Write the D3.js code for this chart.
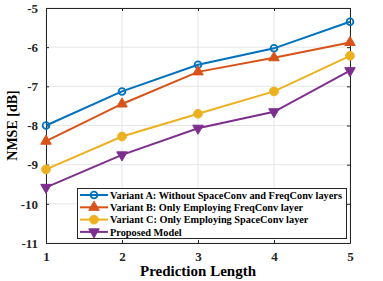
<!DOCTYPE html>
<html>
  <head>
    <style>
      body { margin: 0; padding: 0; background: #fff; overflow: hidden; }
      svg { display: block; }
      text { font-family: "Liberation Serif", "Times New Roman", serif; font-weight: bold; }
    </style>
    <script src="https://d3js.org/d3.v7.min.js"></script>
  </head>
  <body>
    <svg width="383" height="281"></svg>
    <script>
      // Data
      const lengths = [1, 2, 3, 4, 5];
      const variantA = [-8.0, -7.13, -6.45, -6.03, -5.35];
      const variantB = [-8.4, -7.45, -6.63, -6.27, -5.88];
      const variantC = [-9.12, -8.28, -7.7, -7.13, -6.22];
      const proposed = [-9.58, -8.75, -8.07, -7.65, -6.6];
      const yTicks = [-11, -10, -9, -8, -7, -6, -5];
      const seriesNames = [
        'Variant A: Without SpaceConv and FreqConv layers',
        'Variant B: Only Employing FreqConv layer',
        'Variant C: Only Employing SpaceConv layer',
        'Proposed Model'
      ];

      const series = [
        { name: seriesNames[0], values: variantA, color: '#0072BD', marker: 'ring' },
        { name: seriesNames[1], values: variantB, color: '#D95319', marker: 'up' },
        { name: seriesNames[2], values: variantC, color: '#EDB120', marker: 'dot' },
        { name: seriesNames[3], values: proposed, color: '#7E2F8E', marker: 'down' }
      ];

      const svg = d3.select('svg');
      const plotL = 46, plotR = 350, plotT = 8, plotB = 243;

      const x = d3.scaleLinear().domain([1, 5]).range([plotL, plotR]);
      const y = d3.scaleLinear().domain([-11, -5]).range([plotB, plotT]);

      // grid
      const grid = svg.append('g').attr('stroke', '#e6e6e6').attr('stroke-width', 1);
      lengths.forEach(v => {
        grid.append('line').attr('x1', x(v)).attr('x2', x(v)).attr('y1', plotT).attr('y2', plotB);
      });
      yTicks.forEach(v => {
        grid.append('line').attr('x1', plotL).attr('x2', plotR).attr('y1', y(v)).attr('y2', y(v));
      });

      // axes
      svg.append('g')
        .attr('transform', `translate(0,${plotB})`)
        .call(d3.axisBottom(x).tickValues(lengths).tickSizeInner(-3).tickSizeOuter(0).tickPadding(9).tickFormat(d3.format('d')));
      svg.append('g')
        .attr('transform', `translate(${plotL},0)`)
        .call(d3.axisLeft(y).tickValues(yTicks).tickSizeInner(-3).tickSizeOuter(0).tickPadding(8).tickFormat(d => d));
      svg.append('g')
        .attr('transform', `translate(0,${plotT})`)
        .call(d3.axisTop(x).tickValues(lengths).tickSizeInner(-3).tickSizeOuter(0).tickFormat(''));
      svg.append('g')
        .attr('transform', `translate(${plotR},0)`)
        .call(d3.axisRight(y).tickValues(yTicks).tickSizeInner(-3).tickSizeOuter(0).tickFormat(''));
      svg.selectAll('.domain, .tick line').attr('stroke', '#262626');
      svg.selectAll('.tick text').attr('fill', '#262626')
        .style('font-family', '"Liberation Serif", serif').style('font-weight', 'bold').style('font-size', '13px');

      // lines
      const line = d3.line().x((d, i) => x(lengths[i])).y(d => y(d));
      const sym = {
        up: d3.symbol().type(d3.symbolTriangle).size(48),
        down: d3.symbol().type(d3.symbolTriangle).size(48),
        dot: d3.symbol().type(d3.symbolCircle).size(60),
        ring: d3.symbol().type(d3.symbolCircle).size(36)
      };
      function drawMarker(g, s, cx, cy) {
        const p = g.append('path').attr('d', sym[s.marker]());
        const rot = s.marker === 'down' ? ' rotate(180)' : '';
        p.attr('transform', `translate(${cx},${cy})${rot}`);
        if (s.marker === 'ring') {
          p.attr('fill', 'none').attr('stroke', s.color).attr('stroke-width', 1.8);
        } else {
          p.attr('fill', s.color).attr('stroke', s.color).attr('stroke-width', 1);
        }
      }

      series.forEach(s => {
        svg.append('path').datum(s.values)
          .attr('d', line).attr('fill', 'none')
          .attr('stroke', s.color).attr('stroke-width', 2);
        const g = svg.append('g');
        s.values.forEach((v, i) => drawMarker(g, s, x(lengths[i]), y(v)));
      });

      // legend
      const lg = svg.append('g');
      lg.append('rect').attr('x', 77.5).attr('y', 188.5).attr('width', 269).attr('height', 50)
        .attr('fill', '#fff').attr('stroke', '#262626').attr('stroke-width', 1);
      series.forEach((s, i) => {
        const ly = 195 + i * 12.3;
        lg.append('line').attr('x1', 80).attr('x2', 108).attr('y1', ly).attr('y2', ly)
          .attr('stroke', s.color).attr('stroke-width', 2);
        drawMarker(lg, s, 94, ly);
        lg.append('text').attr('x', 110).attr('y', ly + 3.8)
          .attr('font-size', '10.3px').attr('fill', '#000').text(s.name);
      });

      // titles
      svg.append('text').attr('x', (plotL + plotR) / 2).attr('y', 276)
        .attr('text-anchor', 'middle').attr('font-size', '15px').attr('fill', '#000')
        .text('Prediction Length');
      svg.append('text')
        .attr('transform', `translate(17,${(plotT + plotB) / 2}) rotate(-90)`)
        .attr('text-anchor', 'middle').attr('font-size', '14px').attr('fill', '#000')
        .text('NMSE [dB]');
    </script>
  </body>
</html>
